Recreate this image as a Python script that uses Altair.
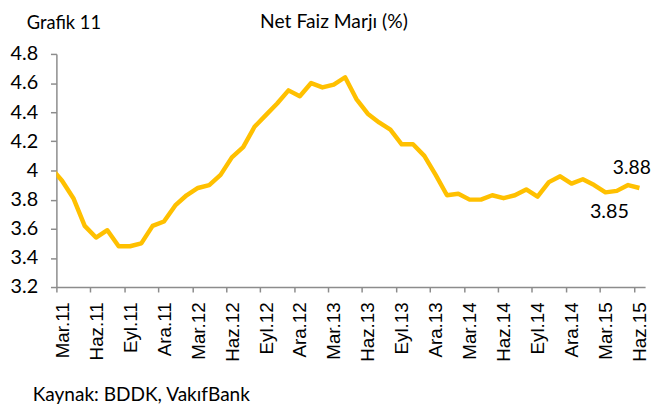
import json
import altair as alt
import numpy as np
import pandas as pd

# Turkish month abbreviations
month_abbr = ["Oca", "Şub", "Mar", "Nis", "May", "Haz", "Tem", "Ağu", "Eyl", "Eki", "Kas", "Ara"]

# Monthly series from Şub.11 to Haz.15 (Şub.11 is only partly visible, clipped at the axis)
months = [f"{month_abbr[(1 + i) % 12]}.{11 + (1 + i) // 12}" for i in range(53)]
nfm = [
    4.02,
    3.93, 3.81, 3.62, 3.54, 3.59, 3.48, 3.48, 3.50, 3.62, 3.65,
    3.76, 3.83, 3.88, 3.90, 3.97, 4.09, 4.16, 4.30, 4.38, 4.46, 4.55, 4.51,
    4.60, 4.57, 4.59, 4.64, 4.49, 4.39, 4.33, 4.28, 4.18, 4.18, 4.10, 3.97,
    3.83, 3.84, 3.80, 3.80, 3.83, 3.81, 3.83, 3.87, 3.82, 3.92, 3.96, 3.91,
    3.94, 3.90, 3.85, 3.86, 3.90, 3.88,
]

tick_labels = ["Mar.11", "Haz.11", "Eyl.11", "Ara.11", "Mar.12", "Haz.12", "Eyl.12", "Ara.12",
               "Mar.13", "Haz.13", "Eyl.13", "Ara.13", "Mar.14", "Haz.14", "Eyl.14", "Ara.14",
               "Mar.15", "Haz.15"]
y_ticks = [3.2, 3.4, 3.6, 3.8, 4.0, 4.2, 4.4, 4.6, 4.8]

annotated = ["Mar.15", "Haz.15"]

title_text = "Net Faiz Marjı (%)"
chart_no = "Grafik 11"
source_text = "Kaynak: BDDK, VakıfBank"

df = pd.DataFrame({"ay": months, "nfm": nfm})
# category centre: month index counted from Mar.11 plus half a month
df["pos"] = np.arange(len(df)) - 1 + 0.5

axis_gray = "#8c8c8c"
label_expr = json.dumps(tick_labels).replace('"', "'") + "[round(datum.value / 3)]"

x_enc = alt.X(
    "pos:Q",
    scale=alt.Scale(domain=[0, 52], nice=False, zero=False),
    axis=alt.Axis(
        values=list(range(0, 52, 3)),
        labelExpr=label_expr,
        labelAngle=270,
        labelAlign="right",
        labelBaseline="middle",
        labelOffset=6,
        labelPadding=10,
        tickSize=5,
        tickColor=axis_gray,
        domainColor=axis_gray,
        domainWidth=1.5,
        tickWidth=1.5,
        labelFont="Liberation Sans",
        labelFontSize=19,
        labelColor="#000000",
        labelOverlap=False,
        labelFlush=False,
        grid=False,
        title=None,
    ),
)
y_enc = alt.Y(
    "nfm:Q",
    scale=alt.Scale(domain=[3.2, 4.8], nice=False, zero=False),
    axis=alt.Axis(
        values=y_ticks,
        format="~g",
        tickSize=6,
        tickColor=axis_gray,
        domainColor=axis_gray,
        domainWidth=1.5,
        tickWidth=1.5,
        labelPadding=13,
        labelFont="Lato",
        labelFontSize=20,
        labelColor="#000000",
        labelOverlap=False,
        labelFlush=False,
        grid=False,
        title=None,
    ),
)

line = alt.Chart(df).mark_line(
    color="#FFC000", strokeWidth=4.5, strokeJoin="round", clip=True
).encode(x=x_enc, y=y_enc)

ann_df = df[df["ay"].isin(annotated)]
ann_low = alt.Chart(ann_df[ann_df["ay"] == annotated[0]]).mark_text(
    font="Lato", fontSize=20, color="#000000", dx=4, dy=20, align="center", baseline="middle"
).encode(x=x_enc, y=y_enc, text=alt.Text("nfm:Q", format=".2f"))
ann_high = alt.Chart(ann_df[ann_df["ay"] == annotated[1]]).mark_text(
    font="Lato", fontSize=19.5, color="#000000", dx=-27, dy=-20, align="left", baseline="middle"
).encode(x=x_enc, y=y_enc, text=alt.Text("nfm:Q", format=".2f"))

title = alt.Chart(pd.DataFrame({"t": [title_text]})).mark_text(
    font="Lato", fontSize=19.5, color="#000000", align="center", baseline="middle"
).encode(x=alt.value(281), y=alt.value(-32), text="t:N")
grafik = alt.Chart(pd.DataFrame({"t": [chart_no]})).mark_text(
    font="Lato", fontSize=18.5, color="#000000", align="left", baseline="middle"
).encode(x=alt.value(-30), y=alt.value(-31), text="t:N")
source = alt.Chart(pd.DataFrame({"t": [source_text]})).mark_text(
    font="Lato", fontSize=19.3, color="#000000", align="left", baseline="middle"
).encode(x=alt.value(-24), y=alt.value(345), text="t:N")

chart = (
    alt.layer(line, ann_low, ann_high, title, grafik, source)
    .properties(
        width=596,
        height=236,
        autosize=alt.AutoSizeParams(type="none"),
        padding={"left": 49, "top": 44, "right": 8, "bottom": 124},
        background="white",
    )
    .configure_view(strokeWidth=0)
)

chart.save("out.html", embed_options={"renderer": "svg", "actions": False})
